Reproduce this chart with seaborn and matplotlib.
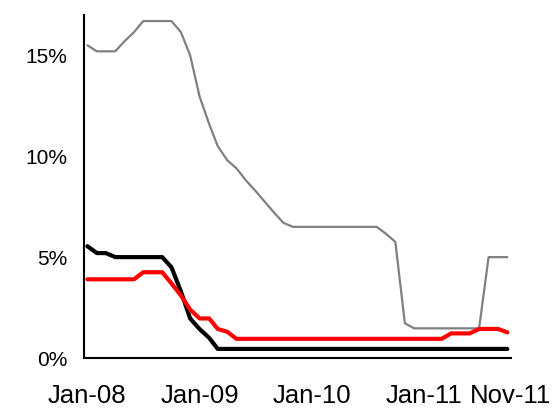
import matplotlib
matplotlib.use("Agg")
import matplotlib.pyplot as plt
import numpy as np
import pandas as pd
import seaborn as sns

# monthly rates in percent, Jan-08 .. Oct-11
months = pd.date_range("2008-01-01", periods=46, freq="MS")

grey_rate = [15.5, 15.2, 15.2, 15.2, 15.7, 16.15, 16.7, 16.7, 16.7, 16.7, 16.15, 15.0,
             12.95, 11.6, 10.5, 9.8, 9.4, 8.8, 8.3, 7.75, 7.2, 6.7, 6.5,
             6.5, 6.5, 6.5, 6.5, 6.5, 6.5, 6.5, 6.5, 6.5,
             6.15, 5.75, 1.72,
             1.47, 1.47, 1.47, 1.47, 1.47, 1.47, 1.47, 1.47,
             5.0, 5.0, 5.0]

black_rate = [5.54, 5.2, 5.2, 5.0, 5.0, 5.0, 5.0, 5.0, 5.0,
              4.5, 3.3, 1.96, 1.43, 1.0] + [0.45] * 32

red_rate = [3.9, 3.9, 3.9, 3.9, 3.9, 3.9, 4.25, 4.25, 4.25,
            3.7, 3.1, 2.4, 1.96, 1.96, 1.44, 1.3] + [0.95] * 23 + \
           [1.22, 1.22, 1.22, 1.44, 1.44, 1.44, 1.27]

# last label sits at the end of the axis, like the original
tick_dates = ["2008-01-01", "2009-01-01", "2010-01-01", "2011-01-01", "2011-10-13"]
tick_labels = ["Jan-08", "Jan-09", "Jan-10", "Jan-11", "Nov-11"]
y_ticks = [0, 5, 10, 15]

sns.set_style("white")
plt.rcParams['font.family'] = ['Liberation Sans', 'DejaVu Sans']

df = pd.DataFrame({"month": months, "grey": grey_rate, "black": black_rate, "red": red_rate})

fig = plt.figure(figsize=(5.58, 4.08), dpi=100)
ax = fig.add_axes([84 / 558, 50 / 408, (511 - 84) / 558, (358 - 15) / 408])

sns.lineplot(data=df, x="month", y="grey", color="#808080", linewidth=1.6, ax=ax)
sns.lineplot(data=df, x="month", y="black", color="#000000", linewidth=3.0, ax=ax)
sns.lineplot(data=df, x="month", y="red", color="#ff0000", linewidth=3.0, ax=ax)

ax.set_xlim(pd.Timestamp("2007-12-21"), pd.Timestamp("2011-10-13"))
ax.set_ylim(0, 17)
ax.set_xticks(pd.to_datetime(tick_dates))
ax.set_xticklabels(tick_labels, fontsize=18.5)
ax.set_yticks(y_ticks)
ax.set_yticklabels([f"{v}%" for v in y_ticks], fontsize=15)
ax.tick_params(axis="x", length=0, pad=19, colors="black")
ax.tick_params(axis="y", length=0, pad=12, colors="black")
ax.set_xlabel("")
ax.set_ylabel("")

for side in ["top", "right"]:
    ax.spines[side].set_visible(False)
for side in ["left", "bottom"]:
    ax.spines[side].set_color("black")
    ax.spines[side].set_linewidth(1.5)

fig.savefig("out.png", dpi=100)
